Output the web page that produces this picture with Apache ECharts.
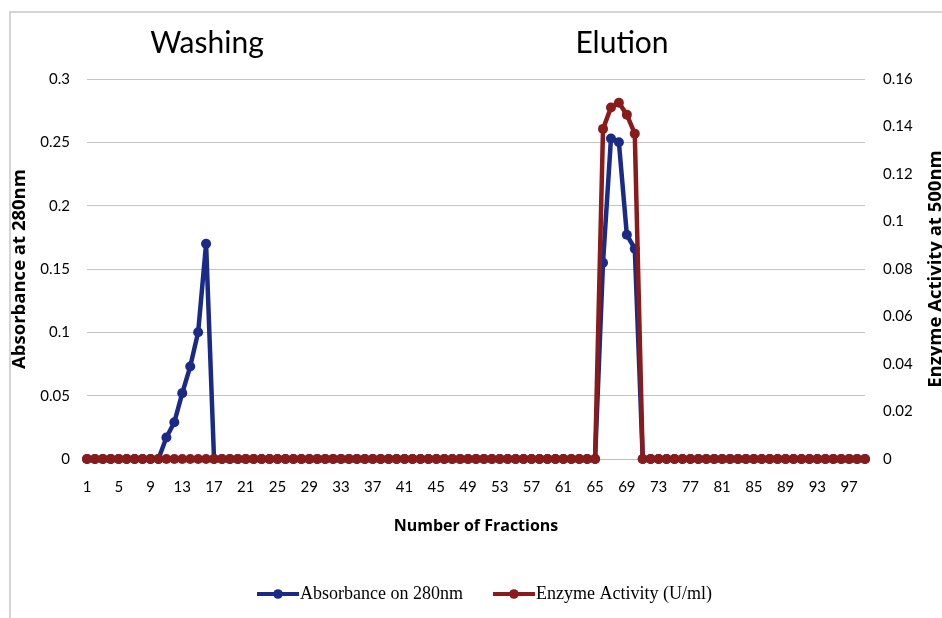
<!DOCTYPE html>
<html>
<head>
<meta charset="utf-8">
<script src="https://cdn.jsdelivr.net/npm/echarts@6/dist/echarts.min.js"></script>
<style>
  html, body { margin: 0; padding: 0; background: #ffffff; }
  #chart { width: 942px; height: 618px; }
</style>
</head>
<body>
<div id="chart"></div>
<script>
// Fraction numbers 1..99
const fractions = [];
for (let i = 1; i <= 99; i++) fractions.push(String(i));

// Absorbance at 280 nm: non-zero fractions (washing peak and elution peak)
const absorbanceNonZero = {
  11: 0.017, 12: 0.029, 13: 0.052, 14: 0.073, 15: 0.100, 16: 0.170,
  66: 0.155, 67: 0.253, 68: 0.250, 69: 0.177, 70: 0.166
};
// Enzyme activity (U/ml): non-zero fractions
const activityNonZero = {
  66: 0.139, 67: 0.148, 68: 0.150, 69: 0.145, 70: 0.137
};

const absorbance = fractions.map(f => absorbanceNonZero[f] !== undefined ? absorbanceNonZero[f] : 0);
const activity = fractions.map(f => activityNonZero[f] !== undefined ? activityNonZero[f] : 0);

const leftTicks = { min: 0, max: 0.3, interval: 0.05 };
const rightTicks = { min: 0, max: 0.16, interval: 0.02 };

const blue = '#1b2a86';
const red = '#8a1b1b';
const sansFont = 'Lato, "Open Sans", sans-serif';
const boldFont = '"Open Sans", "Noto Sans", sans-serif';

const chart = echarts.init(document.getElementById('chart'), null, { renderer: 'canvas' });
chart.setOption({
  backgroundColor: '#ffffff',
  animation: false,
  graphic: [
    { type: 'polyline', shape: { points: [[10, 618], [10, 12], [942, 12]] },
      style: { stroke: '#c8c8c8', lineWidth: 1.5, fill: null } },
    { type: 'text', x: 207, y: 43,
      style: { text: 'Washing', font: '30px ' + sansFont, fill: '#000', align: 'center', verticalAlign: 'middle' } },
    { type: 'text', x: 622, y: 43,
      style: { text: 'Elution', font: '30px ' + sansFont, fill: '#000', align: 'center', verticalAlign: 'middle' } }
  ],
  grid: { left: 87, right: 77, top: 79, bottom: 159, containLabel: false, outerBoundsMode: 'none' },
  legend: {
    bottom: 10,
    left: 250,
    itemGap: 28,
    itemWidth: 42,
    itemHeight: 12,
    lineStyle: { width: 4 },
    textStyle: { fontFamily: '"Liberation Serif", "Times New Roman", serif', fontSize: 18, color: '#000', padding: [0, 0, 0, -4] },
    data: ['Absorbance on 280nm', 'Enzyme Activity (U/ml)']
  },
  xAxis: {
    type: 'category',
    data: fractions,
    boundaryGap: false,
    name: 'Number of Fractions',
    nameLocation: 'middle',
    nameGap: 59,
    nameTextStyle: { fontFamily: boldFont, fontWeight: 'bold', fontSize: 16, color: '#000' },
    axisLine: { lineStyle: { color: '#bfbfbf', width: 1 } },
    axisTick: { show: false },
    axisLabel: { interval: 3, margin: 21, fontFamily: sansFont, fontSize: 15, color: '#000' },
    splitLine: { show: false }
  },
  yAxis: [
    {
      type: 'value',
      min: leftTicks.min, max: leftTicks.max, interval: leftTicks.interval,
      name: 'Absorbance at 280nm',
      nameLocation: 'middle',
      nameGap: 54,
      nameRotate: 90,
      nameTextStyle: { fontFamily: boldFont, fontWeight: 'bold', fontSize: 18.5, color: '#000' },
      axisLine: { show: false },
      axisTick: { show: false },
      axisLabel: { margin: 17, fontFamily: sansFont, fontSize: 15, color: '#000' },
      splitLine: { lineStyle: { color: '#c4c4c4', width: 1 } }
    },
    {
      type: 'value',
      position: 'right',
      alignTicks: false,
      min: rightTicks.min, max: rightTicks.max, interval: rightTicks.interval,
      name: 'Enzyme Activity at 500nm',
      nameLocation: 'middle',
      nameGap: 61,
      nameRotate: 90,
      nameTextStyle: { fontFamily: boldFont, fontWeight: 'bold', fontSize: 18.5, color: '#000' },
      axisLine: { show: false },
      axisTick: { show: false },
      axisLabel: { margin: 18, fontFamily: sansFont, fontSize: 15, color: '#000' },
      splitLine: { show: false }
    }
  ],
  series: [
    {
      name: 'Absorbance on 280nm',
      type: 'line',
      yAxisIndex: 0,
      data: absorbance,
      symbol: 'circle',
      symbolSize: 10,
      showAllSymbol: true,
      lineStyle: { color: blue, width: 4.5 },
      itemStyle: { color: blue },
      z: 2
    },
    {
      name: 'Enzyme Activity (U/ml)',
      type: 'line',
      yAxisIndex: 1,
      data: activity,
      symbol: 'circle',
      symbolSize: 10,
      showAllSymbol: true,
      lineStyle: { color: red, width: 4.5 },
      itemStyle: { color: red },
      z: 3
    }
  ]
});
</script>
</body>
</html>
